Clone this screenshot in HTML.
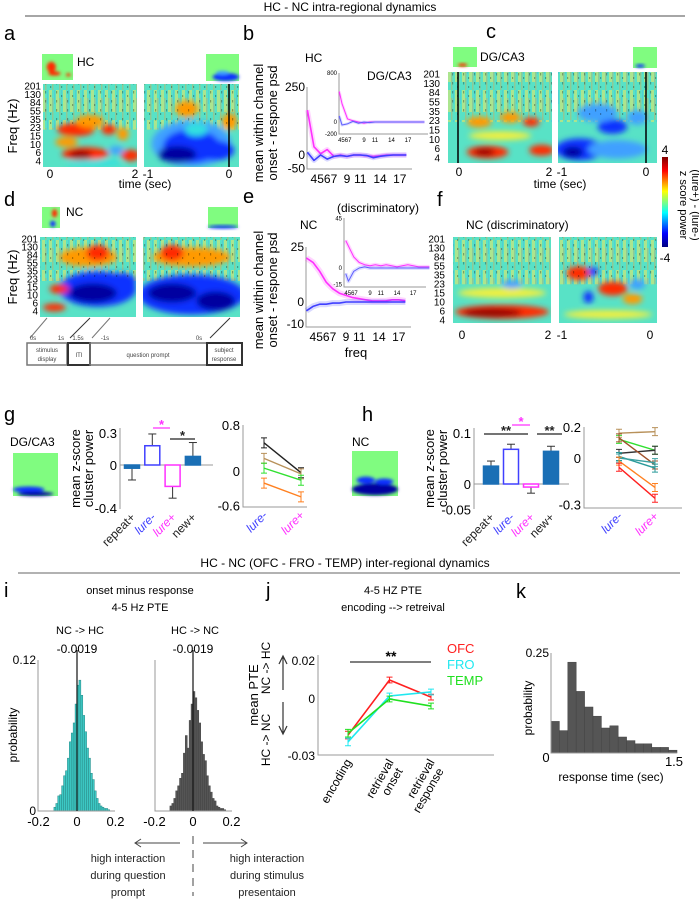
<!DOCTYPE html>
<html><head><meta charset="utf-8"><style>
html,body{margin:0;padding:0;background:#fff;}
svg{display:block;font-family:"Liberation Sans",sans-serif;}
</style></head><body>
<svg id="fig" width="699" height="900" viewBox="0 0 699 900">
<defs>
<filter id="blur" x="-50%" y="-50%" width="200%" height="200%"><feGaussianBlur stdDeviation="3"/></filter>
<filter id="blur2" x="-50%" y="-50%" width="200%" height="200%"><feGaussianBlur stdDeviation="1.5"/></filter>
<pattern id="streaks" width="7" height="30" patternUnits="userSpaceOnUse"><rect x="0" y="0" width="3" height="22" fill="#f0e860"/><rect x="3" y="8" width="1.5" height="22" fill="#ff9a30" opacity="0.6"/><rect x="5" y="0" width="1" height="14" fill="#3090ff" opacity="0.4"/></pattern>
<pattern id="speck" width="11" height="9" patternUnits="userSpaceOnUse"><rect x="1" y="1" width="1.2" height="2.5" fill="#000"/><rect x="6" y="5" width="1.2" height="2" fill="#000"/></pattern>
<linearGradient id="jet" x1="0" y1="0" x2="0" y2="1"><stop offset="0" stop-color="#800000"/><stop offset="0.15" stop-color="#ff0000"/><stop offset="0.38" stop-color="#ffff00"/><stop offset="0.62" stop-color="#00ffff"/><stop offset="0.85" stop-color="#0000ff"/><stop offset="1" stop-color="#000080"/></linearGradient>
</defs>

<text x="350" y="11" font-size="12" text-anchor="middle">HC - NC intra-regional dynamics</text>
<line x1="25" y1="16" x2="685" y2="16" stroke="#888" stroke-width="1.5"/>

<g font-size="20">
<text x="4" y="40">a</text>
<text x="243" y="40">b</text>
<text x="486" y="38">c</text>
<text x="4" y="206">d</text>
<text x="243" y="203">e</text>
<text x="437" y="206">f</text>
<text x="4" y="421">g</text>
<text x="362" y="421">h</text>
<text x="4" y="597">i</text>
<text x="266" y="597">j</text>
<text x="516" y="598">k</text>
</g>

<g font-size="12">
<text x="77" y="66">HC</text>
<text x="305" y="62">HC</text>
<text x="367" y="80">DG/CA3</text>
<text x="480" y="61">DG/CA3</text>
<text x="66" y="216">NC</text>
<text x="337" y="212">(discriminatory)</text>
<text x="300" y="229">NC</text>
<text x="466" y="229">NC (discriminatory)</text>
<text x="10" y="446">DG/CA3</text>
<text x="352" y="446">NC</text>
</g>

<g id="specs"></g>
<g id="freqlabels" font-size="10" text-anchor="end"></g>

<g font-size="12">
<text transform="translate(17,126) rotate(-90)" text-anchor="middle" font-size="13">Freq (Hz)</text>
<text transform="translate(17,277) rotate(-90)" text-anchor="middle" font-size="13">Freq (Hz)</text>
<text x="50" y="178" text-anchor="middle">0</text>
<text x="135" y="178" text-anchor="middle">2</text>
<text x="148" y="178" text-anchor="middle">-1</text>
<text x="229" y="178" text-anchor="middle">0</text>
<text x="145" y="188" text-anchor="middle">time (sec)</text>
<text x="459" y="176" text-anchor="middle">0</text>
<text x="549" y="176" text-anchor="middle">2</text>
<text x="562" y="176" text-anchor="middle">-1</text>
<text x="646" y="176" text-anchor="middle">0</text>
<text x="560" y="188" text-anchor="middle">time (sec)</text>
<text x="462" y="339" text-anchor="middle">0</text>
<text x="548" y="339" text-anchor="middle">2</text>
<text x="562" y="339" text-anchor="middle">-1</text>
<text x="650" y="339" text-anchor="middle">0</text>
</g>

<rect x="662" y="157" width="6" height="90" fill="url(#jet)"/>
<text x="665" y="154" font-size="12" text-anchor="middle">4</text>
<text x="665" y="262" font-size="12" text-anchor="middle">-4</text>
<text transform="translate(680,205) rotate(90)" font-size="11" text-anchor="middle">z score power</text>
<text transform="translate(692,205) rotate(90)" font-size="11" text-anchor="middle">(lure+) - (lure-)</text>

<g stroke="#777" fill="none">
<line x1="47" y1="318" x2="30" y2="338"/>
<line x1="90" y1="318" x2="70" y2="338" stroke="#333"/>
<line x1="110" y1="318" x2="92" y2="338"/>
<line x1="230" y1="318" x2="210" y2="338" stroke="#333"/>
<rect x="27" y="343" width="40" height="22" stroke-width="1.5"/>
<rect x="68" y="343" width="22" height="22" stroke="#333" stroke-width="2"/>
<rect x="90" y="343" width="117" height="22" stroke-width="1.5"/>
<rect x="207" y="343" width="35" height="22" stroke="#333" stroke-width="2"/>
</g>
<g font-size="6" fill="#444" text-anchor="middle">
<text x="33" y="340">0s</text>
<text x="61" y="340">1s</text>
<text x="78" y="340">1.5s</text>
<text x="105" y="340">-1s</text>
<text x="199" y="340">0s</text>
<text x="47" y="352">stimulus</text>
<text x="47" y="361">display</text>
<text x="79" y="357">ITI</text>
<text x="148" y="357">question prompt</text>
<text x="224" y="352">subject</text>
<text x="224" y="361">response</text>
</g>

<g id="psd"></g>
<g id="bars"></g>

<text x="345" y="567" font-size="12" text-anchor="middle">HC - NC (OFC - FRO - TEMP) inter-regional dynamics</text>
<line x1="18" y1="573" x2="680" y2="573" stroke="#666" stroke-width="1"/>

<g font-size="11" text-anchor="middle">
<text x="140" y="594">onset minus response</text>
<text x="140" y="611">4-5 Hz PTE</text>
<text x="80" y="634">NC -&gt; HC</text>
<text x="195" y="634">HC -&gt; NC</text>
<text x="393" y="594">4-5 HZ  PTE</text>
<text x="393" y="611">encoding --&gt; retreival</text>
</g>
<g id="lower"></g>

<g font-size="11" text-anchor="middle" fill="#222">
<line x1="135" y1="843" x2="180" y2="843" stroke="#444"/>
<polyline points="141,839 135,843 141,847" fill="none" stroke="#444"/>
<line x1="203" y1="843" x2="247" y2="843" stroke="#444"/>
<polyline points="241,839 247,843 241,847" fill="none" stroke="#444"/>
<line x1="193" y1="836" x2="193" y2="896" stroke="#444" stroke-dasharray="8,6"/>
<text x="128" y="862">high interaction</text>
<text x="128" y="879">during question</text>
<text x="128" y="896">prompt</text>
<text x="267" y="862">high interaction</text>
<text x="267" y="879">during stimulus</text>
<text x="267" y="896">presentaion</text>
</g>

<script>
const NS='http://www.w3.org/2000/svg';
function mk(p,tag,a){const e=document.createElementNS(NS,tag);for(const k in a)e.setAttribute(k,a[k]);p.appendChild(e);return e;}

const palette=['#900000','#ff2a00','#ff9a00','#f0f040','#30e0e0','#40a0ff','#1030ff','#0000a0'];
const specA1=[[0.45,0.84,0.25,0.08,1],[0.4,0.85,0.12,0.05,0],[0.93,0.86,0.1,0.07,1],[0.35,0.55,0.2,0.08,1],[0.5,0.45,0.15,0.08,2],[0.25,0.7,0.12,0.06,2],[0.7,0.55,0.08,0.06,1],[0.78,0.8,0.08,0.05,5],[0.55,0.95,0.3,0.04,4],[0.85,0.6,0.06,0.08,2]];
const specA2=[[0.5,0.72,0.42,0.28,5],[0.5,0.75,0.3,0.2,6],[0.35,0.85,0.2,0.1,7],[0.75,0.8,0.2,0.12,6],[0.55,0.55,0.12,0.08,4],[0.45,0.3,0.12,0.1,2],[0.9,0.45,0.08,0.1,2]];
const specC1=[[0.38,0.88,0.2,0.07,1],[0.35,0.88,0.1,0.04,0],[0.9,0.86,0.12,0.06,1],[0.3,0.55,0.12,0.06,2],[0.6,0.5,0.1,0.06,2],[0.8,0.55,0.08,0.05,1],[0.5,0.7,0.3,0.05,3]];
const specC2=[[0.22,0.85,0.25,0.12,6],[0.15,0.88,0.1,0.06,7],[0.6,0.85,0.3,0.1,5],[0.55,0.6,0.15,0.08,6],[0.8,0.5,0.1,0.08,5],[0.4,0.45,0.2,0.1,5]];
const specD1=[[0.6,0.65,0.4,0.22,6],[0.55,0.7,0.25,0.12,7],[0.85,0.55,0.15,0.1,6],[0.15,0.88,0.12,0.05,1],[0.2,0.65,0.1,0.06,1],[0.5,0.25,0.3,0.12,2],[0.6,0.2,0.12,0.1,1]];
const specD2=[[0.5,0.72,0.55,0.25,6],[0.3,0.7,0.25,0.12,7],[0.75,0.8,0.2,0.12,7],[0.5,0.25,0.4,0.12,2],[0.3,0.2,0.12,0.1,1]];
const specF1=[[0.5,0.87,0.48,0.08,1],[0.4,0.88,0.3,0.05,0],[0.5,0.65,0.45,0.06,3],[0.6,0.55,0.1,0.05,5]];
const specF2=[[0.2,0.42,0.12,0.08,1],[0.55,0.6,0.15,0.08,1],[0.75,0.72,0.1,0.06,2],[0.35,0.4,0.05,0.05,6],[0.3,0.7,0.05,0.07,6],[0.5,0.9,0.45,0.05,3],[0.8,0.55,0.08,0.06,5]];
const freqTicks=['201','130','84','55','35','23','15','10','6','4'];

const specs=document.getElementById('specs');
function spec(x,y,w,h,blobs,name,lineX){
  const g=mk(specs,'g',{});
  
  
  const cid='clip-'+name;
  const cp=mk(g,'clipPath',{id:cid}); mk(cp,'rect',{x:x,y:y,width:w,height:h});
  const inner=mk(g,'g',{'clip-path':'url(#'+cid+')'});
  const base=mk(inner,'rect',{x:x,y:y,width:w,height:h,fill:'#58e2c6'});
  
  
  const st=mk(inner,'rect',{x:x,y:y,width:w,height:h*0.55,fill:'url(#streaks)',opacity:0.55});
  
  
  const bg=mk(inner,'g',{filter:'url(#blur)'});
  blobs.forEach(b=>{
    const e=mk(bg,'ellipse',{cx:x+b[0]*w,cy:y+b[1]*h,rx:b[2]*w,ry:b[3]*h,fill:palette[b[4]]});
    
    
  });
  const sp=mk(inner,'rect',{x:x,y:y,width:w,height:h*0.5,fill:'url(#speck)',opacity:0.3});
  
  
  if(lineX!==undefined){
    const l=mk(g,'line',{x1:lineX,y1:y,x2:lineX,y2:y+h,stroke:'#000','stroke-width':1.5});
    
    
  }
}
spec(43,84,94,83,specA1,'spec-a-onset');
spec(144,84,95,83,specA2,'spec-a-response',229);
spec(448,72,104,91,specC1,'spec-c-onset',458);
spec(558,72,99,91,specC2,'spec-c-response',646);
spec(40,237,96,80,specD1,'spec-d-onset');
spec(143,237,97,80,specD2,'spec-d-response');
spec(453,237,98,86,specF1,'spec-f-onset');
spec(559,237,98,86,specF2,'spec-f-response');

function mini(x,y,w,h,blobs,name){
  const g=mk(specs,'g',{});
  
  
  const r=mk(g,'rect',{x:x,y:y,width:w,height:h,fill:'#80fc80'});
  
  
  const bg=mk(g,'g',{filter:'url(#blur2)'});
  blobs.forEach(b=>{
    const e=mk(bg,'ellipse',{cx:x+b[0]*w,cy:y+b[1]*h,rx:b[2]*w,ry:b[3]*h,fill:palette[b[4]]});
    
    
  });
}
mini(42,54,31,26,[[0.3,0.5,0.15,0.2,1],[0.4,0.75,0.2,0.08,1],[0.85,0.8,0.08,0.06,1]],'mini-a-onset');
mini(206,54,33,27,[[0.6,0.85,0.4,0.15,6],[0.5,0.7,0.2,0.08,5]],'mini-a-response');
mini(453,47,24,20,[[0.4,0.9,0.2,0.08,1]],'mini-c-onset');
mini(633,47,24,21,[[0.3,0.9,0.2,0.08,6]],'mini-c-response');
mini(42,207,18,21,[[0.7,0.3,0.15,0.2,1],[0.6,0.8,0.15,0.15,6]],'mini-d-onset');
mini(208,207,30,21,[[0.5,0.95,0.5,0.08,6]],'mini-d-response');
mini(13,453,45,43,[[0.35,0.85,0.35,0.07,6],[0.5,0.95,0.4,0.05,7]],'mini-g');
mini(352,451,46,45,[[0.5,0.85,0.5,0.13,7],[0.3,0.65,0.2,0.08,6],[0.7,0.68,0.2,0.07,6]],'mini-h');

const fl=document.getElementById('freqlabels');
function freqLabels(xr,y0,y1,name){
  freqTicks.forEach((t,i)=>{
    const yy=y0+(y1-y0)*i/(freqTicks.length-1)+3.5;
    const e=mk(fl,'text',{x:xr,y:yy});
    e.textContent=t;
    
    
  });
}
freqLabels(41,86,161,'a-freq');
freqLabels(440,74,158,'c-freq');
freqLabels(38,239,311,'d-freq');
freqLabels(445,239,320,'f-freq');

const psdFreqs=[3,4,5,6,7,8,9,10,11,12,13,14,15,16,17,18];
const bHcMagenta=[165,30,5,20,-5,0,-5,0,0,-3,-5,-3,0,0,0,0];
const bHcBlue=[10,-20,0,-15,-5,-2,-5,0,0,-2,-10,-5,-2,0,0,0];
const insetFreqs=[4.5,5,6,7,8,9,10,11,12,13,14,15,16,17,18,19,20];
const bInsetMagenta=[500,300,50,20,0,-20,0,0,0,0,0,0,0,0,0,0,0];
const bInsetBlue=[100,-50,-30,10,-20,0,-10,0,0,0,0,0,0,0,0,0,0];
const eNcMagenta=[20,18,14,9,6,4,3,2,1.5,1,0.5,0.5,0.5,1,1,0.5];
const eNcBlue=[-4,-2,-1,-1,-0.5,-0.5,0,0,0,0,0,0,0,0,0,0];
const eInsetMagenta=[25,20,10,5,3,2,3,2,3,2,1,2,3,2,1,1,1];
const eInsetBlue=[-5,-12,-3,0,1,0,0,0,0,0,0,0,0,0,0,0,0];

const psd=document.getElementById('psd');
function psdPlot(o){
  const g=mk(psd,'g',{});
  
  
  const X=f=>o.x0+(f-o.f0)*o.k;
  const Y=v=>o.yz-(v)*o.ky;
  const ax=mk(g,'polyline',{points:`${o.ax0},${o.yTop} ${o.ax0},${o.yBot} ${o.ax1},${o.yBot}`,fill:'none',stroke:'#999','stroke-width':1});
  
  
  o.series.forEach(s=>{
    const pts=o.freqs.map((f,i)=>X(f)+','+Y(s.v[i])).join(' ');
    const band=mk(g,'polyline',{points:pts,fill:'none',stroke:s.c,'stroke-width':o.bw,opacity:0.2,'stroke-linejoin':'round'});
    
    
    const l=mk(g,'polyline',{points:pts,fill:'none',stroke:s.c,'stroke-width':o.lw,'stroke-linejoin':'round'});
    
    
  });
  o.yt.forEach(t=>{
    const e=mk(g,'text',{x:o.ax0-2,y:Y(t)+o.fs/3,'font-size':o.fs,'text-anchor':'end'});
    e.textContent=t;
    
    
  });
  o.xt.forEach(t=>{
    const e=mk(g,'text',{x:X(t[1]),y:o.yBot+o.fs+2,'font-size':o.fs,'text-anchor':'middle'});
    e.textContent=t[0];
    
    
  });
}
const xtMain=[['4567',5.5],['9',9],['11',11],['14',14],['17',17]];
psdPlot({name:'b-hc-psd',freqs:psdFreqs,x0:347,f0:9,k:6.6,yz:155,ky:0.272,ax0:307,ax1:412,yTop:87,yBot:169,lw:1.6,bw:5,fs:12,yt:[250,0,-50],xt:xtMain,
  series:[{n:'magenta',c:'#ff30ff',v:bHcMagenta},{n:'blue',c:'#4040ff',v:bHcBlue}]});
psdPlot({name:'b-inset-psd',freqs:insetFreqs,x0:364,f0:9,k:5.5,yz:122,ky:0.061,ax0:339,ax1:428,yTop:73,yBot:134,lw:1,bw:3,fs:6,yt:[800,0,-200],xt:[['4567',5.5],['9',9],['11',11],['14',14],['17',17]],
  series:[{n:'magenta',c:'#ff30ff',v:bInsetMagenta},{n:'blue',c:'#6060ff',v:bInsetBlue}]});
psdPlot({name:'e-nc-psd',freqs:psdFreqs,x0:346,f0:9,k:6.6,yz:302,ky:2.2,ax0:306,ax1:411,yTop:247,yBot:327,lw:1.6,bw:6,fs:12,yt:[25,0,-10],xt:xtMain,
  series:[{n:'magenta',c:'#ff30ff',v:eNcMagenta},{n:'blue',c:'#4040ff',v:eNcBlue}]});
psdPlot({name:'e-inset-psd',freqs:insetFreqs,x0:370,f0:9,k:5.4,yz:268,ky:1.1,ax0:344,ax1:426,yTop:218,yBot:287,lw:1,bw:4,fs:6,yt:[45,0,-15],xt:[['4567',5.5],['9',9],['11',11],['14',14],['17',17]],
  series:[{n:'magenta',c:'#ff30ff',v:eInsetMagenta},{n:'blue',c:'#6060ff',v:eInsetBlue}]});
(function(){
  const t1=mk(psd,'text',{transform:'translate(263,123) rotate(-90)','font-size':13,'text-anchor':'middle'});t1.textContent='mean within channel';
  
  
  const t2=mk(psd,'text',{transform:'translate(277,123) rotate(-90)','font-size':13,'text-anchor':'middle'});t2.textContent='onset - respone psd';
  
  
  const t3=mk(psd,'text',{transform:'translate(263,290) rotate(-90)','font-size':13,'text-anchor':'middle'});t3.textContent='mean within channel';
  
  
  const t4=mk(psd,'text',{transform:'translate(277,290) rotate(-90)','font-size':13,'text-anchor':'middle'});t4.textContent='onset - respone psd';
  
  
  const t5=mk(psd,'text',{x:356,y:357,'font-size':13,'text-anchor':'middle'});t5.textContent='freq';
  
  
})();

const barCats=['repeat+','lure-','lure+','new+'];
const gMeans=[-0.03,0.18,-0.2,0.08];
const gErr=[0.11,0.11,0.11,0.13];
const hMeans=[0.035,0.068,-0.006,0.064];
const hErr=[0.01,0.01,0.012,0.01];
const gTicks=[0.3,0,-0.4];
const hTicks=[0.1,0,-0.05];
const catColors=['#222','#4040ff','#ff30ff','#222'];
const bars=document.getElementById('bars');
function barChart(o){
  const g=mk(bars,'g',{});
  
  
  const Y=v=>o.yz-v*o.ky;
  const ax=mk(g,'polyline',{points:`${o.ax0},${o.yTop} ${o.ax0},${o.yBot}`,fill:'none',stroke:'#999'});
  
  
  const zl=mk(g,'line',{x1:o.ax0,y1:Y(0),x2:o.ax1,y2:Y(0),stroke:'#999'});
  
  
  o.means.forEach((m,i)=>{
    const cx=o.x0+o.step*i;
    const filled=(i===0||i===3);
    const top=Math.min(Y(m),Y(0)),hh=Math.abs(Y(m)-Y(0));
    const eb=m>=0?Y(m+o.err[i]):Y(m-o.err[i]);
    const el=mk(g,'line',{x1:cx,y1:Y(m),x2:cx,y2:eb,stroke:'#333'});
    
    
    const ec=mk(g,'line',{x1:cx-4,y1:eb,x2:cx+4,y2:eb,stroke:'#333'});
    
    
    const r=mk(g,'rect',{x:cx-o.bw/2,y:top,width:o.bw,height:hh,fill:filled?'#1a6fb5':'#fff',stroke:filled?'#1a6fb5':catColors[i],'stroke-width':1.5});
    
    
    const t=mk(g,'text',{transform:`translate(${cx+4},${o.yBot+9}) rotate(-45)`,'font-size':12,'text-anchor':'end',fill:catColors[i],'font-style':(i===1||i===2)?'italic':'normal'});
    t.textContent=barCats[i];
    
    
  });
  o.ticks.forEach(v=>{
    const t=mk(g,'text',{x:o.ax0-3,y:Y(v)+5,'font-size':13,'text-anchor':'end'});
    t.textContent=v;
    
    
  });
  const yt1=mk(g,'text',{transform:`translate(${o.ax0-40},${(o.yTop+o.yBot)/2}) rotate(-90)`,'font-size':13,'text-anchor':'middle'});
  yt1.textContent='mean z-score';
  
  
  const yt2=mk(g,'text',{transform:`translate(${o.ax0-27},${(o.yTop+o.yBot)/2}) rotate(-90)`,'font-size':13,'text-anchor':'middle'});
  yt2.textContent='cluster power';
  
  
  o.sig.forEach(s=>{
    const l=mk(g,'line',{x1:s[0],y1:s[2],x2:s[1],y2:s[2],stroke:s[4],'stroke-width':1.3});
    
    
    const t=mk(g,'text',{x:(s[0]+s[1])/2,y:s[2]+1,'font-size':13,'text-anchor':'middle',fill:s[4],'font-weight':'bold'});
    t.textContent=s[3];
    
    
  });
}
barChart({name:'g-bar',means:gMeans,err:gErr,ticks:gTicks,x0:132,step:20.3,bw:15,yz:465,ky:107,ax0:120,ax1:213,yTop:428,yBot:509,
  sig:[[153,170,428,'*','#ff30ff'],[170,195,439,'*','#222']]});
barChart({name:'h-bar',means:hMeans,err:hErr,ticks:hTicks,x0:491,step:20,bw:15,yz:484,ky:510,ax0:474,ax1:569,yTop:428,yBot:509,
  sig:[[484,528,434,'**','#222'],[512,530,425,'*','#ff30ff'],[537,562,434,'**','#222']]});

const pairCats=['lure-','lure+'];
const gPairLure=[0.49,0.22,0.05,-0.21];
const gPairLurePlus=[-0.03,-0.05,-0.16,-0.45];
const gPairColors=['#222','#b8915a','#30e030','#ff8020'];
const hPairLure=[0.16,0.12,0.03,0.13,0.01,0.0,-0.02,-0.06];
const hPairLurePlus=[0.17,0.05,0.05,-0.045,-0.065,-0.03,-0.19,-0.26];
const hPairColors=['#b8915a','#30e030','#333','#a0502a','#2a9a9a','#3aa0a0','#ff8020','#ff2020'];
const gPairTicks=[0.8,0,-0.6];
const hPairTicks=[0.2,0,-0.3];
function pairChart(o){
  const g=mk(bars,'g',{});
  
  
  const Y=v=>o.yz-v*o.ky;
  const ax=mk(g,'polyline',{points:`${o.ax0},${o.yTop} ${o.ax0},${o.yBot} ${o.ax1},${o.yBot}`,fill:'none',stroke:'#999'});
  
  
  o.a.forEach((v,i)=>{
    const y1=Y(v),y2=Y(o.b[i]);
    const l=mk(g,'line',{x1:o.xa,y1:y1,x2:o.xb,y2:y2,stroke:o.c[i],'stroke-width':1.4});
    
    
    [[o.xa,y1],[o.xb,y2]].forEach(p=>{
      const e=mk(g,'path',{d:`M${p[0]-3},${p[1]-o.e} H${p[0]+3} M${p[0]},${p[1]-o.e} V${p[1]+o.e} M${p[0]-3},${p[1]+o.e} H${p[0]+3}`,stroke:o.c[i],fill:'none'});
      
      
    });
  });
  o.ticks.forEach(v=>{
    const t=mk(g,'text',{x:o.ax0-3,y:Y(v)+5,'font-size':13,'text-anchor':'end'});
    t.textContent=v;
    
    
  });
  pairCats.forEach((c,i)=>{
    const t=mk(g,'text',{transform:`translate(${(i?o.xb:o.xa)+4},${o.yBot+9}) rotate(-45)`,'font-size':12,'text-anchor':'end',fill:i?'#ff30ff':'#4040ff','font-style':'italic'});
    t.textContent=c;
    
    
  });
}
pairChart({name:'g-pair',a:gPairLure,b:gPairLurePlus,c:gPairColors,ticks:gPairTicks,xa:264,xb:301,yz:471,ky:57.5,ax0:243,ax1:307,yTop:425,yBot:507,e:5});
pairChart({name:'h-pair',a:hPairLure,b:hPairLurePlus,c:hPairColors,ticks:hPairTicks,xa:619,xb:655,yz:458,ky:155,ax0:584,ax1:682,yTop:427,yBot:508,e:4});

const histBins=[-0.12,-0.11,-0.10,-0.09,-0.08,-0.07,-0.06,-0.05,-0.04,-0.03,-0.02,-0.01,0.0,0.01,0.02,0.03,0.04,0.05,0.06,0.07,0.08,0.09,0.10,0.11,0.12,0.13,0.14,0.15,0.16];
const histNcHc=[0.003,0.006,0.012,0.013,0.02,0.028,0.032,0.042,0.055,0.062,0.07,0.085,0.1,0.104,0.092,0.076,0.063,0.05,0.042,0.03,0.025,0.016,0.01,0.006,0.004,0.003,0.002,0.002,0.001];
const histHcNc=[0.004,0.006,0.01,0.016,0.02,0.026,0.03,0.046,0.06,0.05,0.072,0.085,0.095,0.09,0.08,0.07,0.055,0.045,0.04,0.028,0.02,0.015,0.01,0.008,0.004,0.003,0.002,0.002,0.001];
const kBins=[0,0.1,0.2,0.3,0.4,0.5,0.6,0.7,0.8,0.9,1.0,1.1,1.2,1.3,1.4];
const kProb=[0.079,0.056,0.227,0.154,0.115,0.092,0.0625,0.068,0.04,0.031,0.023,0.023,0.014,0.014,0.007];
const lower=document.getElementById('lower');
function hist(o){
  const g=mk(lower,'g',{});
  
  
  const X=v=>o.x0+(v-o.v0)*o.kx;
  const Y=p=>o.yb-p*o.ky;
  o.bins.forEach((b,i)=>{
    const r=mk(g,'rect',{x:X(b),y:Y(o.vals[i]),width:o.bwv*o.kx,height:o.vals[i]*o.ky,fill:o.fill,stroke:o.stroke,'stroke-width':0.5});
    
    
  });
  const ax=mk(g,'polyline',{points:`${o.ax0},${o.yTop} ${o.ax0},${o.yb} ${o.ax1},${o.yb}`,fill:'none',stroke:'#999'});
  
  
  if(o.vline!==undefined){
    const l=mk(g,'line',{x1:X(o.vline),y1:o.yTop-10,x2:X(o.vline),y2:o.yb,stroke:'#111','stroke-width':1.2});
    
    
  }
  o.xt.forEach(t=>{
    const e=mk(g,'text',{x:X(t),y:o.yb+15,'font-size':13,'text-anchor':'middle'});
    e.textContent=t;
    
    
  });
  o.yt.forEach(t=>{
    const e=mk(g,'text',{x:o.ax0-2,y:Y(t)+4,'font-size':12,'text-anchor':'end'});
    e.textContent=t;
    
    
  });
}
hist({name:'i-hist-nc-hc',bins:histBins,vals:histNcHc,bwv:0.01,x0:77,v0:0,kx:192.5,yb:811,ky:1258,ax0:38,ax1:115,yTop:660,fill:'#3cc8c4',stroke:'#2a8a88',vline:0,xt:[-0.2,0,0.2],yt:[0.12,0]});
hist({name:'i-hist-hc-nc',bins:histBins,vals:histHcNc,bwv:0.01,x0:193,v0:0,kx:192.5,yb:811,ky:1258,ax0:155,ax1:232,yTop:660,fill:'#555',stroke:'#444',vline:0,xt:[-0.2,0,0.2],yt:[]});
hist({name:'k-hist',bins:kBins,vals:kProb,bwv:0.1,x0:551,v0:0,kx:84,yb:753,ky:400,ax0:551,ax1:677,yTop:653,fill:'#555',stroke:'#444',xt:[],yt:[0.25]});
(function(){
  const a=mk(lower,'text',{x:77,y:653,'font-size':12,'text-anchor':'middle'});a.textContent='-0.0019';
  
  
  const b=mk(lower,'text',{x:193,y:653,'font-size':12,'text-anchor':'middle'});b.textContent='-0.0019';
  
  
  const p=mk(lower,'text',{transform:'translate(17,735) rotate(-90)','font-size':12,'text-anchor':'middle'});p.textContent='probability';
  
  
  const k0=mk(lower,'text',{x:546,y:762,'font-size':13,'text-anchor':'middle'});k0.textContent='0';
  
  
  const k1=mk(lower,'text',{x:674,y:766,'font-size':13,'text-anchor':'middle'});k1.textContent='1.5';
  
  
  const kt=mk(lower,'text',{x:611,y:781,'font-size':12,'text-anchor':'middle'});kt.textContent='response time (sec)';
  
  
  const kp=mk(lower,'text',{transform:'translate(532,708) rotate(-90)','font-size':12,'text-anchor':'middle'});kp.textContent='probability';
  
  
})();

const jCats=['encoding','retrieval onset','retrieval response'];
const jOFC=[-0.019,0.010,0.001];
const jFRO=[-0.0226,0.0016,0.0037];
const jTEMP=[-0.018,0.0,-0.0037];
const jErr=[0.002,0.0015,0.0015];
const jTicks=[0.02,0,-0.03];
(function(){
  const g=mk(lower,'g',{});
  
  
  const X=i=>348+i*41.5;
  const Y=v=>699-v*1900;
  const ax=mk(g,'polyline',{points:`318,655 318,755 494,755`,fill:'none',stroke:'#999'});
  
  
  jTicks.forEach(v=>{
    const t=mk(g,'text',{x:315,y:Y(v)+4,'font-size':12,'text-anchor':'end'});
    t.textContent=v;
    
    
  });
  const series=[['OFC','#ff2020',jOFC],['FRO','#20e8f0',jFRO],['TEMP','#20e020',jTEMP]];
  series.forEach(s=>{
    const pts=s[2].map((v,i)=>X(i)+','+Y(v)).join(' ');
    const l=mk(g,'polyline',{points:pts,fill:'none',stroke:s[1],'stroke-width':1.6});
    
    
    s[2].forEach((v,i)=>{
      const e=jErr[i]*1900;
      const eb=mk(g,'path',{d:`M${X(i)-3},${Y(v)-e} H${X(i)+3} M${X(i)},${Y(v)-e} V${Y(v)+e} M${X(i)-3},${Y(v)+e} H${X(i)+3}`,stroke:s[1],fill:'none'});
      
      
    });
  });
  series.forEach((s,i)=>{
    const t=mk(g,'text',{x:447,y:653+i*16,'font-size':13,fill:s[1]});
    t.textContent=s[0];
    
    
  });
  const sl=mk(g,'line',{x1:350,y1:662,x2:431,y2:662,stroke:'#333','stroke-width':1.2});
  
  
  const ss=mk(g,'text',{x:391,y:661,'font-size':14,'text-anchor':'middle','font-weight':'bold'});ss.textContent='**';
  
  
  const lab=[[['encoding'],348],[['retrieval','onset'],390],[['retrieval','response'],431]];
  lab.forEach((L,ci)=>{
    L[0].forEach((w,k)=>{
      const t=mk(g,'text',{transform:`translate(${L[1]+4+k*9},${762+k*9}) rotate(-60)`,'font-size':12,'text-anchor':'end'});
      t.textContent=w;
      
      
    });
  });
  const up=mk(g,'path',{d:'M283,690 V657 M279,664 L283,656 L287,664 M283,702 V733 M279,726 L283,734 L287,726',stroke:'#333',fill:'none','stroke-width':1.2});
  
  
  const mp=mk(g,'text',{transform:'translate(258,695) rotate(-90)','font-size':13,'text-anchor':'middle'});mp.textContent='mean PTE';
  
  
  const n1=mk(g,'text',{transform:'translate(270,668) rotate(-90)','font-size':12,'text-anchor':'middle'});n1.textContent='NC -> HC';
  
  
  const n2=mk(g,'text',{transform:'translate(270,740) rotate(-90)','font-size':12,'text-anchor':'middle'});n2.textContent='HC -> NC';
  
  
})();
</script>
</svg>
</body></html>
